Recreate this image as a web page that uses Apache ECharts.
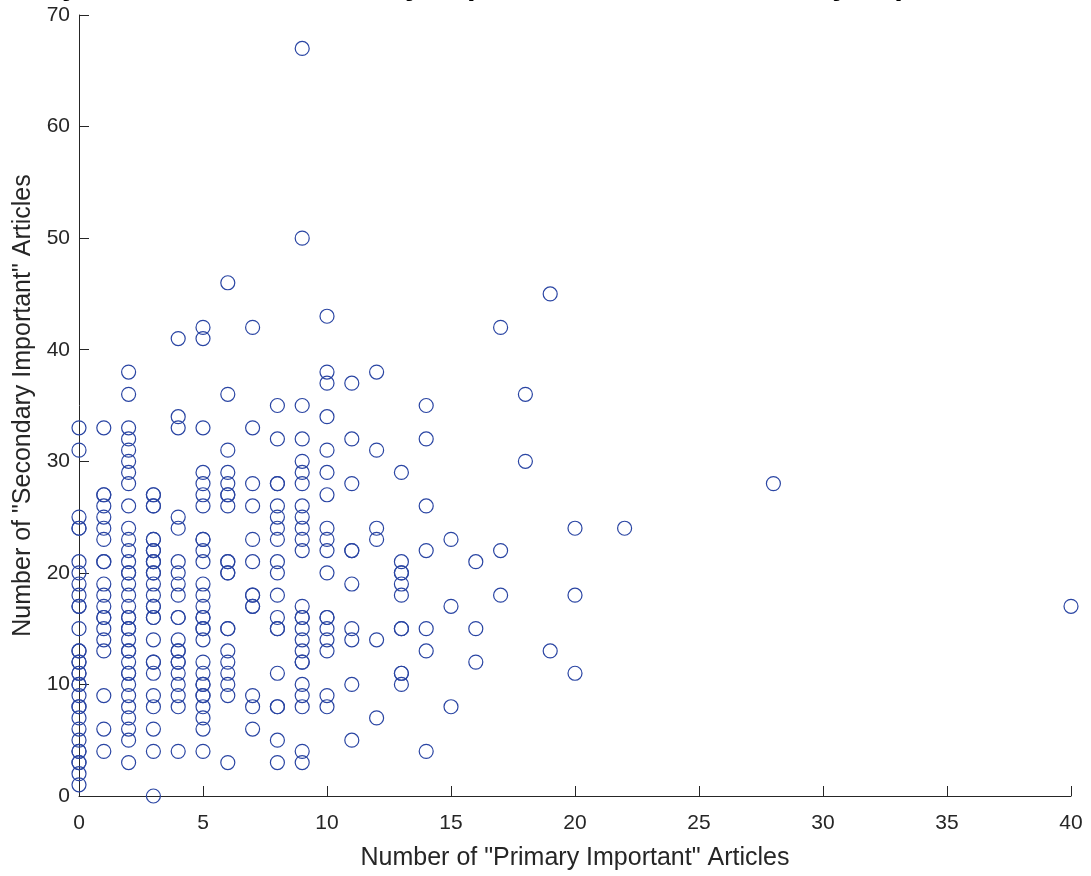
<!DOCTYPE html>
<html>
<head>
<meta charset="utf-8">
<script src="https://cdn.jsdelivr.net/npm/echarts@6/dist/echarts.min.js"></script>
<style>
html,body{margin:0;padding:0;background:#fff;}
#chart{width:1091px;height:876px;}
</style>
</head>
<body>
<div id="chart"></div>
<script>
// Primary-important article counts (x) and the secondary-important counts observed at each (y)
const primaryLevels = [0,1,2,3,4,5,6,7,8,9,10,11,12,13,14,15,16,17,18,19,20,22,28,40];
const secondaryCounts = [
  [33,31,25,24,24,21,20,19,18,17,17,15,13,13,12,12,11,11,10,10,9,8,8,7,6,5,4,4,3,3,2,1],
  [33,27,27,26,25,24,23,21,21,19,18,17,16,16,15,14,13,9,6,4],
  [38,36,33,32,31,30,29,28,26,24,23,22,21,20,20,19,18,17,16,16,15,15,14,13,13,12,11,11,10,9,8,7,6,5,3],
  [27,27,26,26,23,23,22,22,21,21,20,20,19,18,17,17,16,16,14,12,12,11,9,8,6,4,0],
  [41,34,33,25,24,21,20,19,18,16,16,14,13,13,12,12,11,10,9,8,4],
  [42,41,33,29,28,27,26,23,23,22,21,19,18,17,16,16,15,15,14,12,11,10,10,9,9,8,7,6,4],
  [46,36,31,29,28,27,27,26,21,21,20,20,15,15,13,12,11,10,9,3],
  [42,33,28,26,23,21,18,18,17,17,9,8,6],
  [35,32,28,28,26,25,24,23,21,20,18,16,15,15,11,8,8,5,3],
  [67,50,35,32,30,29,28,26,25,24,23,22,17,16,16,15,14,13,12,12,10,9,8,4,3],
  [43,38,37,34,31,29,27,24,23,22,20,16,16,15,14,13,9,8],
  [37,32,28,22,22,19,15,14,10,5],
  [38,31,24,23,14,7],
  [29,21,20,20,19,18,15,15,11,11,10],
  [35,32,26,22,15,13,4],
  [23,17,8],
  [21,15,12],
  [42,22,18],
  [36,30],
  [45,13],
  [24,18,11],
  [24],
  [28],
  [17]
];
const xTicks = [0,5,10,15,20,25,30,35,40];
const yTicks = [0,10,20,30,40,50,60,70];
const titleText = 'Summary Scatter Plot of Primary Important versus Secondary Important Articles';
const xName = 'Number of "Primary Important" Articles';
const yName = 'Number of "Secondary Important" Articles';

const points = [];
primaryLevels.forEach((p, i) => {
  secondaryCounts[i].forEach(s => points.push([p, s]));
});

const chart = echarts.init(document.getElementById('chart'), null, {renderer: 'canvas'});
const font = 'Liberation Sans';
const axisColor = '#262626';
chart.setOption({
  animation: false,
  backgroundColor: '#ffffff',
  grid: {left: 79, right: 20, top: 15, bottom: 79, containLabel: false},
  graphic: [{
    type: 'text',
    left: -62,
    top: -30,
    silent: true,
    style: {
      text: titleText,
      fontFamily: font,
      fontWeight: 'bold',
      fontSize: 31,
      fill: '#000000'
    }
  }],
  xAxis: {
    type: 'value',
    min: xTicks[0],
    max: xTicks[xTicks.length - 1],
    interval: 5,
    name: xName,
    nameLocation: 'middle',
    nameGap: 50,
    nameTextStyle: {fontFamily: font, fontSize: 25, color: axisColor},
    axisLine: {onZero: false, lineStyle: {color: axisColor, width: 1}},
    axisTick: {inside: true, length: 10, lineStyle: {color: axisColor}},
    axisLabel: {margin: 17, fontFamily: font, fontSize: 21, color: axisColor},
    splitLine: {show: false}
  },
  yAxis: {
    type: 'value',
    min: yTicks[0],
    max: yTicks[yTicks.length - 1],
    interval: 10,
    name: yName,
    nameLocation: 'middle',
    nameGap: 42,
    nameTextStyle: {fontFamily: font, fontSize: 25, color: axisColor},
    axisLine: {onZero: false, lineStyle: {color: axisColor, width: 1}},
    axisTick: {inside: true, length: 10, lineStyle: {color: axisColor}},
    axisLabel: {margin: 9, fontFamily: font, fontSize: 21, color: axisColor},
    splitLine: {show: false}
  },
  series: [{
    type: 'scatter',
    data: points,
    symbol: 'circle',
    symbolSize: 14,
    itemStyle: {color: 'rgba(0,0,0,0)', borderColor: '#2a45a3', borderWidth: 1.2, opacity: 1},
    emphasis: {disabled: true}
  }]
});
</script>
</body>
</html>
